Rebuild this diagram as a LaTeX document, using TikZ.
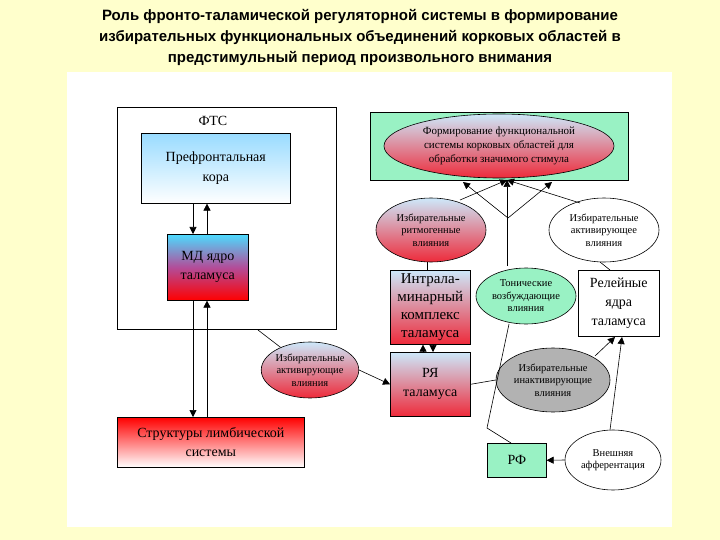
\documentclass[tikz,border=0pt]{standalone}
\usepackage{fontspec}
\setmainfont{Liberation Serif}
\newfontfamily\titlefont{Liberation Sans}
\usetikzlibrary{arrows.meta,shapes.geometric}
\definecolor{bgy}{HTML}{FFFFCC}
\definecolor{mint}{HTML}{99F2C4}
\definecolor{lblue}{HTML}{CDE8FA}
\definecolor{gred}{HTML}{EE2A3A}
\begin{document}
\begin{tikzpicture}[x=1pt,y=-1pt,
  box/.style={draw,line width=0.6pt,inner sep=0pt,anchor=north west,align=center},
  ell/.style={draw,line width=0.6pt,ellipse,inner sep=0pt,align=center,font=\fontsize{10.5}{12.5}\selectfont},
  arr/.style={-{Triangle[length=7pt,width=7pt]},line width=0.6pt},
  ln/.style={line width=0.6pt},
  grad/.style={top color=lblue,bottom color=gred}]
\fill[bgy] (0,0) rectangle (720,540);
\useasboundingbox (0,0) rectangle (720,540);
\fill[white] (67,72) rectangle (672,527);
\node[font=\titlefont\bfseries\fontsize{15}{21}\selectfont,align=center] (title) at (360,37)
 {Роль фронто-таламической регуляторной системы в формирование\\избирательных функциональных объединений корковых областей в\\предстимульный период произвольного внимания};
% left
\node[box,minimum width=219pt,minimum height=222pt] (fts) at (117,107) {};
\node[font=\fontsize{14}{16}\selectfont] (ftsl) at (213,121) {ФТС};
\node[box,minimum width=149pt,minimum height=70pt,top color=blue!35!cyan!40!white,bottom color=white,font=\fontsize{14}{20}\selectfont] (pfc) at (141,133) {Префронтальная\\кора};
\node[box,minimum width=81pt,minimum height=66pt,top color=cyan!80!blue!70,bottom color=red,middle color=white!50!blue!60!red,font=\fontsize{14}{19}\selectfont] (md) at (167,234) {МД ядро\\таламуса};
\node[box,minimum width=187pt,minimum height=50pt,top color=red,bottom color=white,font=\fontsize{14}{19}\selectfont] (lim) at (117,417) {Структуры лимбической\\системы};
\draw[arr] (pfc.south -| 193,0) -- (md.north -| 193,0);
\draw[arr] (md.north -| 207,0) -- (pfc.south -| 207,0);
\draw[arr] (md.south -| 193,0) -- (lim.north -| 193,0);
\draw[arr] (lim.north -| 207,0) -- (md.south -| 207,0);
\node[ell,grad,minimum width=92pt,minimum height=56pt] (act1) at (310,370) {Избирательные\\активирующие\\влияния};
\draw[ln] (258,330) -- (act1);
% center
\node[box,minimum width=80pt,minimum height=64pt,grad,font=\fontsize{14}{19}\selectfont] (ry) at (390,352) {РЯ\\таламуса};
\node[box,minimum width=80pt,minimum height=74pt,grad,font=\fontsize{15}{18}\selectfont] (intra) at (390,270) {Интрала-\\минарный\\комплекс\\таламуса};
\draw[arr] (act1.east) -- (ry.west);
\draw[arr] (ry.north -| 423,0) -- (intra.south -| 423,0);
\draw[arr] (intra.south -| 433,0) -- (ry.north -| 433,0);
\node[ell,grad,minimum width=110pt,minimum height=64pt] (ritm) at (431,230) {Избирательные\\ритмогенные\\влияния};
\draw[ln] (ritm.south -| 427,0) -- (intra.north -| 427,0);
\node[box,minimum width=258pt,minimum height=68pt,fill=mint] (top) at (370,112) {};
\node[ell,top color=lblue,bottom color=gred,minimum width=230pt,minimum height=64pt,font=\fontsize{11}{14}\selectfont] (form) at (499,146) {Формирование функциональной\\системы корковых областей для\\обработки значимого стимула};
\node[ell,fill=white,minimum width=110pt,minimum height=64pt] (act2) at (604,230) {Избирательные\\активирующее\\влияния};
\node[ell,fill=mint,minimum width=100pt,minimum height=56pt] (ton) at (526,296) {Тонические\\возбуждающие\\влияния};
\coordinate (fork) at (508,218);
\coordinate (tl) at (463,182);
\coordinate (tr) at (552,182);
\coordinate (tc) at (507,180);
\draw[arr] (460,200) -- (tc);
\draw[arr] (580,203) -- (tc);
\draw[arr] (507,266) -- (tc);
\draw[arr] (fork) -- (tl);
\draw[arr] (fork) -- (tr);
% right
\node[box,minimum width=81pt,minimum height=66pt,fill=white,font=\fontsize{14}{19}\selectfont] (rel) at (578,270) {Релейные\\ядра\\таламуса};
\draw[ln] (600,262) -- (610,270);
\node[ell,fill=gray!60,minimum width=114pt,minimum height=64pt] (inact) at (553,380) {Избирательные\\инактивирующие\\влияния};
\draw[ln] (ry.east) -- (inact.west);
\draw[arr] (595,356) -- (615,337);
\node[box,minimum width=59pt,minimum height=34pt,fill=mint,font=\fontsize{14}{16}\selectfont] (rf) at (487,443) {РФ};
\node[ell,fill=white,minimum width=96pt,minimum height=60pt] (ext) at (613,460) {Внешняя\\афферентация};
\draw[arr] (ext.west) -- (rf.east);
\draw[arr] (610,430) -- (622,337);
\coordinate (bend) at (487,428);
\draw[ln] (511,443) -- (bend) -- (509,324);
\end{tikzpicture}
\end{document}
